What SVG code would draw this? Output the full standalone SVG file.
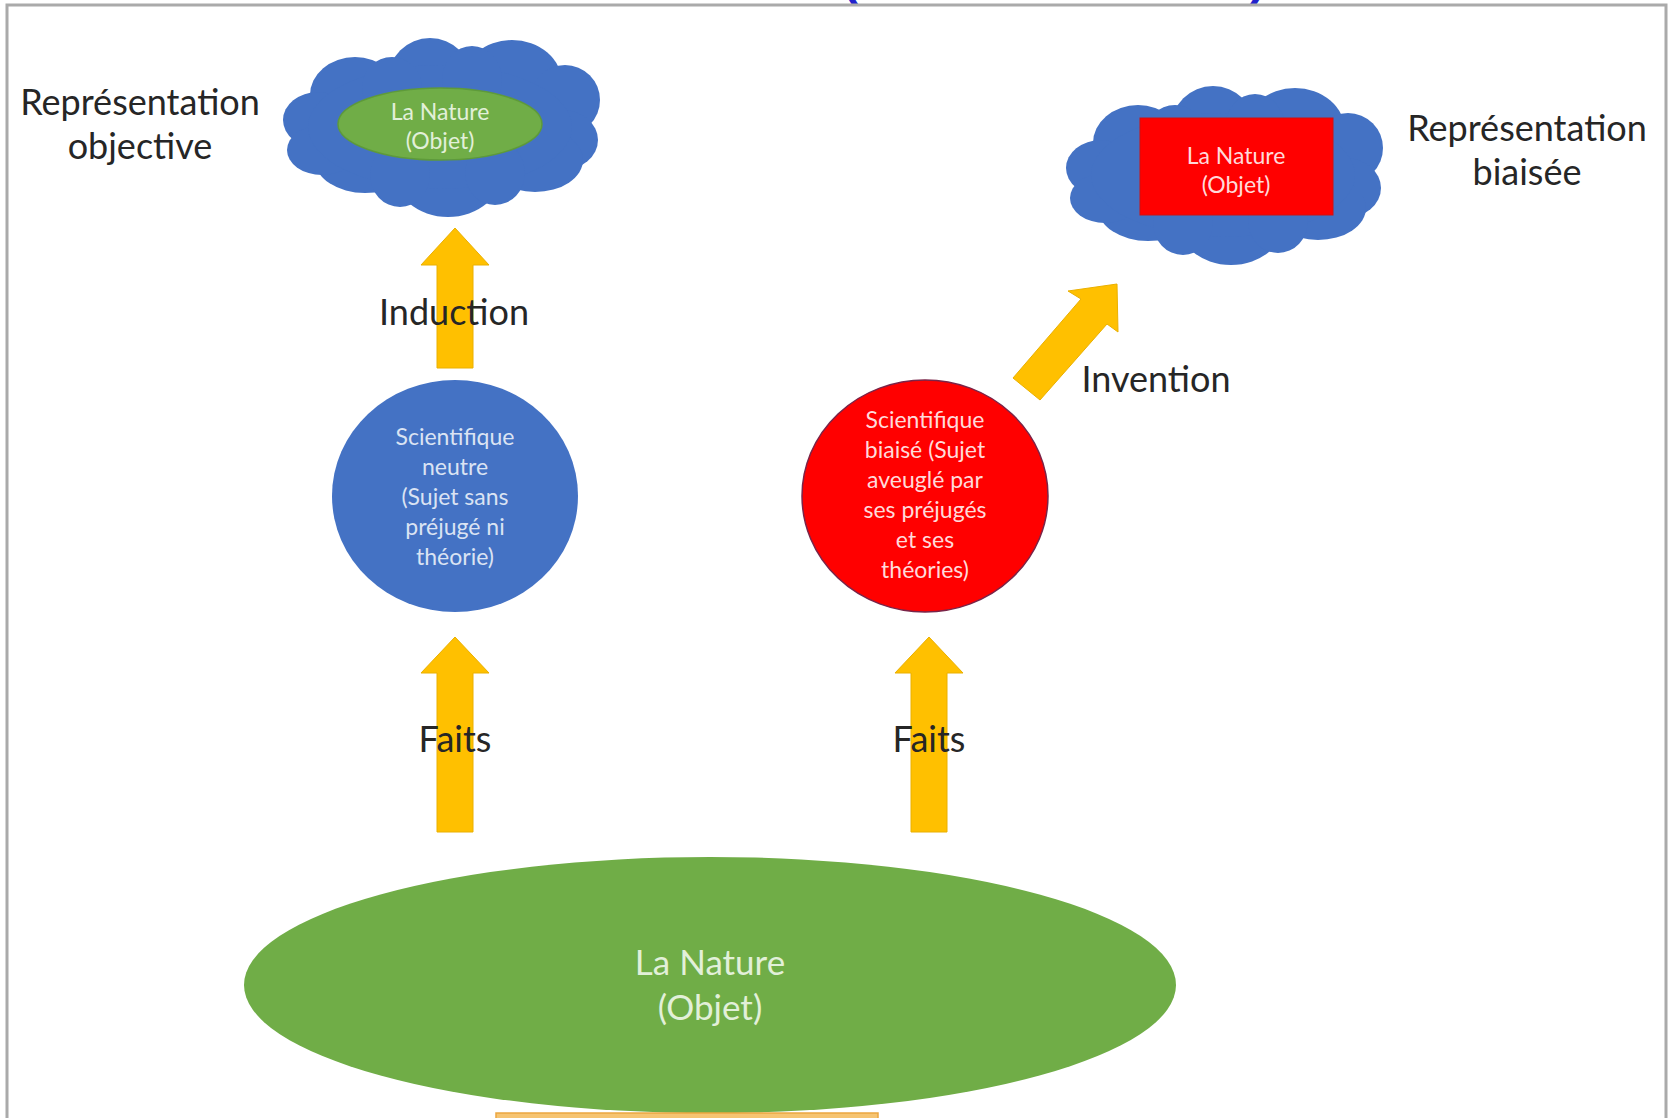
<svg xmlns="http://www.w3.org/2000/svg" xmlns:xlink="http://www.w3.org/1999/xlink" width="1673" height="1118" viewBox="0 0 1673 1118">
<style>
text { font-family: Lato, "Open Sans", "Noto Sans", sans-serif; }
.lbl { font-size: 36px; fill: #262626; text-anchor: middle; }
.in { font-size: 23px; text-anchor: middle; }
.arrow { fill: #ffc000; stroke: #eab000; stroke-width: 1; }
.cloud { fill: #4472c4; }
</style>
<defs>
<g id="cloudShape" class="cloud">
<ellipse cx="75" cy="60" rx="45" ry="38"/>
<ellipse cx="150" cy="45" rx="42" ry="42"/>
<ellipse cx="232" cy="48" rx="50" ry="43"/>
<ellipse cx="285" cy="65" rx="35" ry="35"/>
<ellipse cx="282" cy="105" rx="36" ry="30"/>
<ellipse cx="255" cy="125" rx="48" ry="32"/>
<ellipse cx="168" cy="135" rx="55" ry="47"/>
<ellipse cx="85" cy="125" rx="50" ry="33"/>
<ellipse cx="38" cy="85" rx="35" ry="28"/>
<ellipse cx="42" cy="115" rx="35" ry="25"/>
<ellipse cx="160" cy="92" rx="132" ry="62"/>
<ellipse cx="112" cy="52" rx="30" ry="30"/>
<ellipse cx="192" cy="45" rx="30" ry="34"/>
<ellipse cx="120" cy="140" rx="30" ry="32"/>
<ellipse cx="215" cy="138" rx="30" ry="32"/>
</g>
</defs>
<rect x="0" y="0" width="1673" height="1118" fill="#ffffff"/>
<g id="title-fragment" font-weight="bold" font-size="48" fill="#2222cc">
<text x="842" y="-6" style="font-family:'Liberation Sans', Arial, sans-serif">(</text>
<text x="1250" y="-6" style="font-family:'Liberation Sans', Arial, sans-serif">)</text>
</g>
<path id="frame" d="M7,1118 V5 H1666 V1118" fill="none" stroke="#aaaaaa" stroke-width="3"/>

<g id="connectors">
<polygon class="arrow" points="455,228 489,265 473,265 473,368 437,368 437,265 421,265"/>
<polygon class="arrow" points="455,637 489,673 473,673 473,832 437,832 437,673 421,673"/>
<polygon class="arrow" points="929,637 963,673 947,673 947,832 911,832 911,673 895,673"/>
<polygon class="arrow" points="1117,284 1118,332 1107,324 1040,400 1013,378 1081,299 1068,291"/>
<text class="lbl" x="454" y="325">Induction</text>
<text class="lbl" x="455" y="752">Faits</text>
<text class="lbl" x="929" y="752">Faits</text>
<text class="lbl" x="1156" y="392">Invention</text>
</g>

<g id="label-objective">
<text class="lbl" x="140" y="115">Représentation</text>
<text class="lbl" x="140" y="159">objective</text>
</g>
<g id="label-biaisee">
<text class="lbl" x="1527" y="141">Représentation</text>
<text class="lbl" x="1527" y="185">biaisée</text>
</g>

<g id="cloud-objective">
<use xlink:href="#cloudShape" href="#cloudShape" transform="translate(280,35)"/>
<ellipse cx="440" cy="124" rx="102" ry="36" fill="#70ad47" stroke="#5e9a3a" stroke-width="1.5"/>
<text class="in" x="440" y="120" fill="#e2f0d9">La Nature</text>
<text class="in" x="440" y="149" fill="#e2f0d9">(Objet)</text>
</g>

<g id="cloud-biaisee">
<use xlink:href="#cloudShape" href="#cloudShape" transform="translate(1063,83)"/>
<rect x="1140" y="118" width="193" height="97" fill="#ff0000" stroke="#d01010" stroke-width="1"/>
<text class="in" x="1236" y="164" fill="#ffdada">La Nature</text>
<text class="in" x="1236" y="193" fill="#ffdada">(Objet)</text>
</g>

<g id="scientifique-neutre">
<ellipse cx="455" cy="496" rx="123" ry="116" fill="#4472c4"/>
<g fill="#dae3f3">
<text class="in" x="455" y="445">Scientifique</text>
<text class="in" x="455" y="475">neutre</text>
<text class="in" x="455" y="505">(Sujet sans</text>
<text class="in" x="455" y="535">préjugé ni</text>
<text class="in" x="455" y="565">théorie)</text>
</g>
</g>

<g id="scientifique-biaise">
<ellipse cx="925" cy="496" rx="123" ry="116" fill="#ff0000" stroke="#7a2448" stroke-width="1.5"/>
<g fill="#ffdada">
<text class="in" x="925" y="428">Scientifique</text>
<text class="in" x="925" y="458">biaisé (Sujet</text>
<text class="in" x="925" y="488">aveuglé par</text>
<text class="in" x="925" y="518">ses préjugés</text>
<text class="in" x="925" y="548">et ses</text>
<text class="in" x="925" y="578">théories)</text>
</g>
</g>

<g id="la-nature">
<ellipse cx="710" cy="985" rx="466" ry="128" fill="#70ad47"/>
<text x="710" y="975" font-size="35" text-anchor="middle" fill="#e2f0d9">La Nature</text>
<text x="710" y="1020" font-size="35" text-anchor="middle" fill="#e2f0d9">(Objet)</text>
</g>

<rect id="bottom-bar" x="496" y="1113" width="382" height="8" fill="#f6c471" stroke="#eba640" stroke-width="1.5"/>
</svg>
